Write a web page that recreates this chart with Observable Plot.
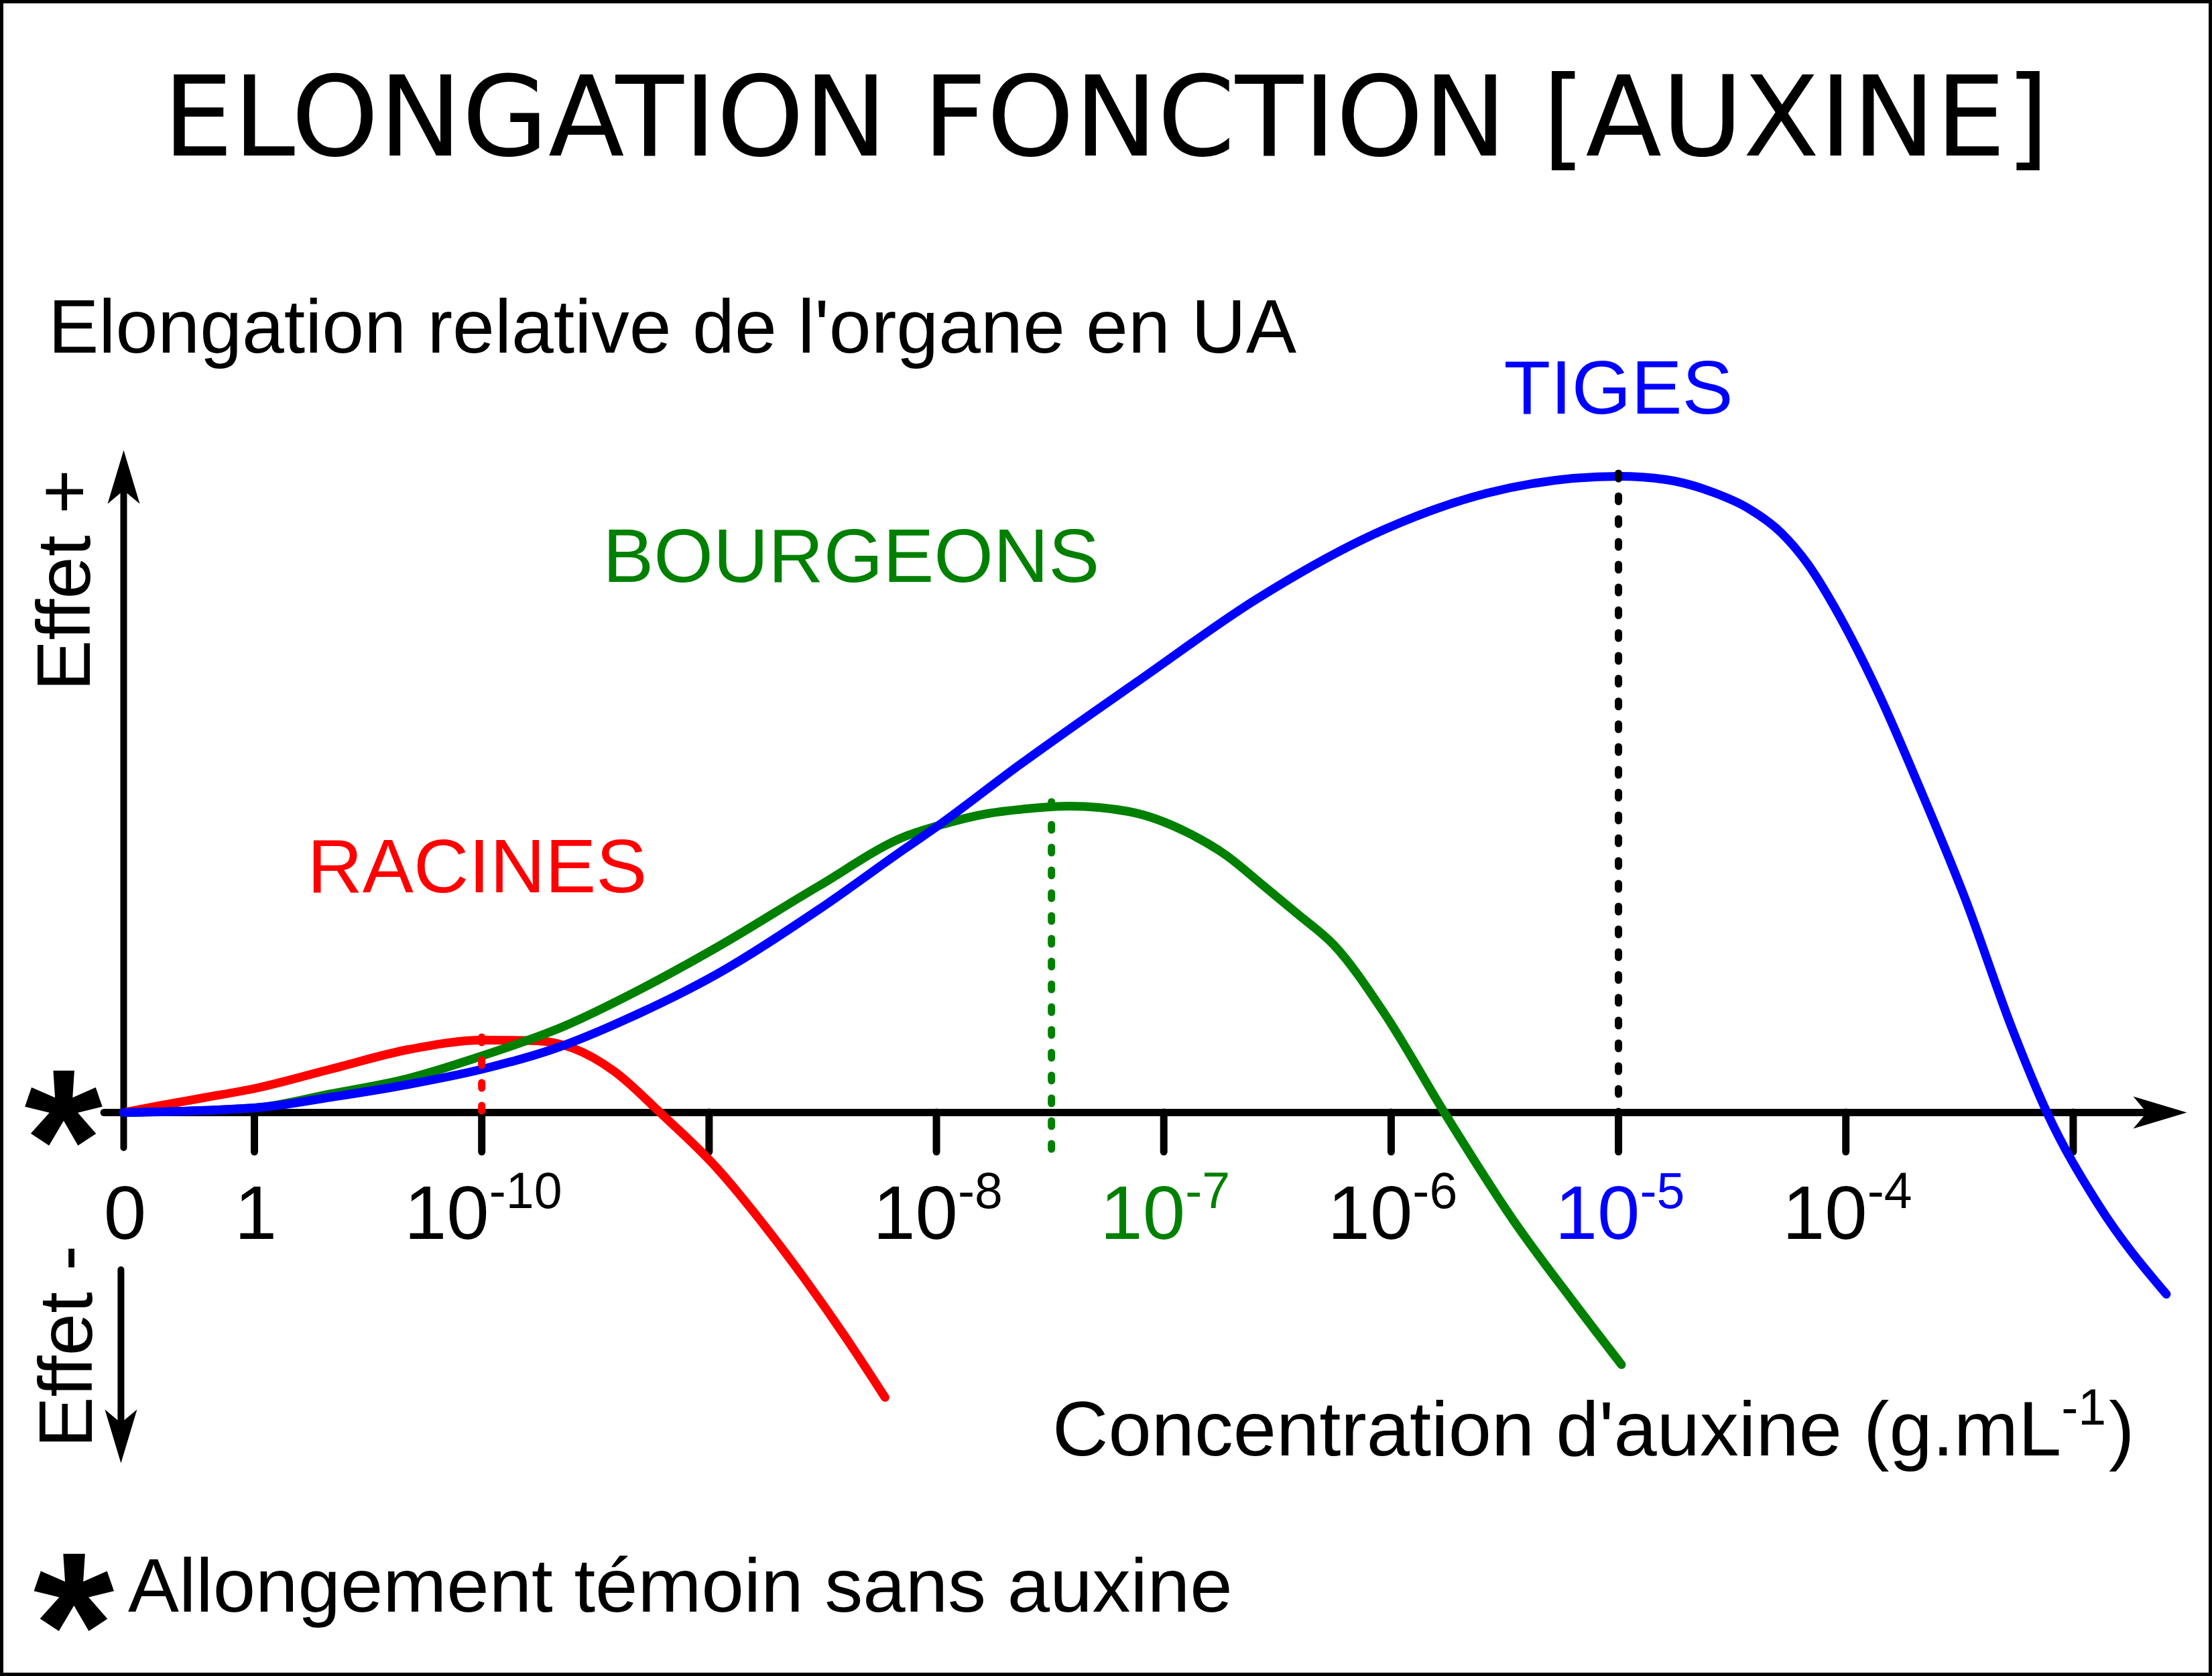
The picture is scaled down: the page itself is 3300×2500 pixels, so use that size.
<!DOCTYPE html>
<html lang="fr">
<head>
<meta charset="utf-8">
<title>Elongation fonction [auxine]</title>
<script src="https://cdn.jsdelivr.net/npm/d3@7"></script>
<script src="https://cdn.jsdelivr.net/npm/@observablehq/plot@0.6"></script>
<style>
  html, body { margin: 0; padding: 0; background: #fff; }
  #page { position: relative; width: 3300px; height: 2500px; overflow: hidden; background: #fff;
          font-family: "Liberation Sans", Arial, sans-serif; color: #000; }
  #frame { position: absolute; left: 0; top: 0; width: 3300px; height: 2500px; box-sizing: border-box;
           border: 5px solid #000; pointer-events: none; }
  #title { position: absolute; left: 0; top: 92px; width: 3300px; text-align: center;
           font-family: "DejaVu Sans", sans-serif; font-size: 166px; line-height: 166px; white-space: nowrap; }
  #subtitle { position: absolute; left: 72px; top: 431px; font-size: 113px; line-height: 113px; white-space: nowrap; }
  #chart { position: absolute; left: 0; top: 450px; }
  #capstar { position: absolute; left: 10px; width: 200px; text-align: center; top: 2374px;
             font-weight: bold; font-size: 310px; line-height: 100px; height: 100px; }
  #caption { position: absolute; left: 191px; top: 2308px; font-size: 114px; line-height: 114px; white-space: nowrap; }
</style>
</head>
<body>
<div id="page">
  <div id="title">ELONGATION FONCTION [AUXINE]</div>
  <div id="subtitle">Elongation relative de l'organe en UA</div>
  <div id="chart"></div>
  <div id="capstar">*</div>
  <div id="caption">Allongement témoin sans auxine</div>
  <div id="frame"></div>
</div>
<script>
// ---------------- data ----------------
// x = position on the concentration axis in decades (log10 g/mL); tick "1" sits at -11, "0" at -11.575
// y = relative elongation (arbitrary units, 0 = control without auxin)
const organs = ["RACINES", "BOURGEONS", "TIGES"];

const racinesConc  = [-11.575, -11.404, -11.224, -10.997, -10.661, -10.322, -9.994, -9.758, -9.599, -9.419, -9.216, -8.968, -8.735, -8.580, -8.394, -8.226];
const racinesElong = [0, 1.1, 2.2, 3.6, 6.5, 9.4, 10.8, 10.7, 9.6, 6.2, 0, -8.2, -17.8, -24.8, -33.8, -42.5];

const bourgeonsConc  = [-11.575, -10.997, -10.661, -10.322, -9.994, -9.643, -9.307, -8.968, -8.517, -8.137, -7.992, -7.774, -7.606, -7.414, -7.155, -6.886, -6.727, -6.571, -6.411, -6.252, -6.028, -5.766, -5.462, -5.199, -4.987];
const bourgeonsElong = [0, 0.7, 2.8, 5.1, 8.5, 12.8, 18.3, 24.6, 33.8, 41.2, 42.8, 44.6, 45.3, 45.7, 44.9, 41.6, 38.4, 34.1, 29.6, 25.0, 14.7, 0, -16.1, -28.2, -37.6];

const tigesConc  = [-11.575, -10.997, -10.661, -10.322, -9.994, -9.691, -9.307, -8.968, -8.517, -8.137, -7.992, -7.653, -7.090, -6.591, -6.028, -5.577, -4.996, -4.789, -4.583, -4.433, -4.282, -4.167, -4.055, -3.949, -3.849, -3.681, -3.474, -3.265, -3.114, -2.890, -2.590];
const tigesElong = [0, 0.7, 2.3, 4.2, 6.5, 9.4, 14.8, 20.6, 30.3, 39.4, 42.8, 51.4, 64.9, 76.6, 87.0, 92.4, 94.9, 94.4, 92.5, 90.2, 86.4, 81.8, 75.7, 69.0, 62.0, 48.9, 31.8, 12.2, -0.1, -13.7, -27.1];

// optimum concentration of each organ (dashed guides)
const optimumConc  = [-10, -7.494, -5];
const optimumElong = [11.2, 46.3, 95.3];
const optimumFoot  = [0, -5.9, 0];

// organ labels
const organLabelConc  = [-10.02, -8.375, -5.0];
const organLabelElong = [32.9, 79.2, 104.3];

// x axis ticks
const tickConc   = [-11.575, -11, -10, -9, -8, -7, -6, -5, -4, -3];
const tickLabels = ["0", "1", "10^-10", "", "10^-8", "10^-7", "10^-6", "10^-5", "10^-4", ""];
const tickOrgan  = ["", "", "", "", "", "BOURGEONS", "", "TIGES", "", ""];

const xTitle = "Concentration d'auxine (g.mL^-1)";
const yPlus = "Effet +";
const yMinus = "Effet -";

// ---------------- styling ----------------
const organColor = {RACINES: "#ff0000", BOURGEONS: "#008000", TIGES: "#0000ff"};
const guideColor = {RACINES: "#ff0000", BOURGEONS: "#008000", TIGES: "#000000"};
const FS = 114;

// tables built from the arrays
const curveRows = [
  ...racinesConc.map((c, i) => ({organ: "RACINES", conc: c, elong: racinesElong[i]})),
  ...bourgeonsConc.map((c, i) => ({organ: "BOURGEONS", conc: c, elong: bourgeonsElong[i]})),
  ...tigesConc.map((c, i) => ({organ: "TIGES", conc: c, elong: tigesElong[i]}))
];
const optimumRows = organs.map((o, i) => ({organ: o, conc: optimumConc[i], top: optimumElong[i], foot: optimumFoot[i]}));
const organLabelRows = organs.map((o, i) => ({organ: o, conc: organLabelConc[i], elong: organLabelElong[i]}));
const tickRows = tickConc.map((c, i) => ({conc: c, label: tickLabels[i], organ: tickOrgan[i]}));

const x0 = tickConc[0];        // origin of the axes
const xEnd = -2.5;             // arrow tip of the x axis
const yTop = 98.8, yBottom = -52.3;

// arrowhead symbol: tip at the origin, pointing up
const arrowHead = {
  draw(context, size) {
    const k = Math.sqrt(size / Math.PI) / 40;
    const L = 80 * k, W = 24 * k, n = 60 * k;
    context.moveTo(0, 0);
    context.lineTo(W, L);
    context.lineTo(0, n);
    context.lineTo(-W, L);
    context.closePath();
  }
};

const plot = Plot.plot({
  width: 3300,
  height: 1800,
  marginLeft: 184,
  marginRight: 38,
  marginTop: 221,
  marginBottom: 68,
  x: {domain: [x0, xEnd], axis: null},
  y: {domain: [yBottom, yTop], axis: null},
  color: {type: "identity"},
  style: {fontFamily: "'Liberation Sans', Arial, sans-serif", background: "transparent", overflow: "visible", color: "black"},
  marks: [
    // axes
    Plot.ruleY([{y: 0, x1: x0 - 0.085, x2: xEnd - 0.118}], {y: "y", x1: "x1", x2: "x2", stroke: "black", strokeWidth: 11, strokeLinecap: "round"}),
    Plot.ruleX([{x: x0, y1: -5.3, y2: yTop - 4}], {x: "x", y1: "y1", y2: "y2", stroke: "black", strokeWidth: 10, strokeLinecap: "round"}),
    Plot.ruleX([{x: x0 - 0.012, y1: -23.5, y2: yBottom + 4}], {x: "x", y1: "y1", y2: "y2", stroke: "black", strokeWidth: 10, strokeLinecap: "round"}),
    Plot.ruleX(tickRows.slice(1), {x: "conc", y1: 0, y2: -5.9, stroke: "black", strokeWidth: 11, strokeLinecap: "round"}),
    // curves
    Plot.line(curveRows, {x: "conc", y: "elong", z: "organ", stroke: d => organColor[d.organ], strokeWidth: 13, curve: "monotone-x", strokeLinejoin: "round", strokeLinecap: "round"}),
    // optimum guides
    Plot.ruleX(optimumRows, {x: "conc", y1: "top", y2: "foot", stroke: d => guideColor[d.organ], strokeWidth: 11, strokeDasharray: "8,26", strokeLinecap: "round"}),
    // arrowheads
    Plot.dot([{x: x0, y: yTop, a: 0}, {x: x0 - 0.012, y: yBottom, a: 180}, {x: xEnd, y: 0, a: 90}],
      {x: "x", y: "y", rotate: "a", symbol: arrowHead, r: 40, fill: "black", stroke: "none"}),
    // tick labels
    Plot.text(tickRows, {x: "conc", y: -18.8, dx: 2, text: "label", fill: d => organColor[d.organ] ?? "black",
      fontSize: FS, textAnchor: "middle", lineAnchor: "bottom"}),
    // organ labels
    Plot.text(organLabelRows, {x: "conc", y: "elong", text: "organ", fill: d => organColor[d.organ],
      fontSize: FS, textAnchor: "middle", lineAnchor: "bottom"}),
    // axis titles
    Plot.text([{x: -11.7225, y: 79.4, t: yPlus}, {x: -11.7137, y: -34.9, t: yMinus}],
      {x: "x", y: "y", text: "t", rotate: -90, fontSize: FS, fill: "black", textAnchor: "middle", lineAnchor: "bottom"}),
    Plot.text([{x: -7.49, y: -51.1, t: xTitle}],
      {x: "x", y: "y", text: "t", fontSize: 115.5, fill: "black", textAnchor: "start", lineAnchor: "bottom"}),
    // control marker
    Plot.text([{x: -11.840, y: -14.4, t: "*"}],
      {x: "x", y: "y", text: "t", fontSize: 300, fontWeight: "bold", fill: "black", textAnchor: "middle", lineAnchor: "bottom"})
  ]
});

// turn "a^b" into a superscript exponent
d3.select(plot).selectAll("text").each(function () {
  const m = /^(.*?)\^(-?\d+)(.*)$/.exec(this.textContent);
  if (!m) return;
  const t = d3.select(this);
  t.text(null);
  t.append("tspan").text(m[1]);
  t.append("tspan").attr("dy", -0.40 * FS).attr("font-size", 0.66 * FS).text(m[2]);
  if (m[3]) t.append("tspan").attr("dy", 0.40 * FS).attr("dx", 4).attr("font-size", this.parentNode.getAttribute("font-size") || FS).text(m[3]);
});

document.getElementById("chart").appendChild(plot);
</script>
</body>
</html>
